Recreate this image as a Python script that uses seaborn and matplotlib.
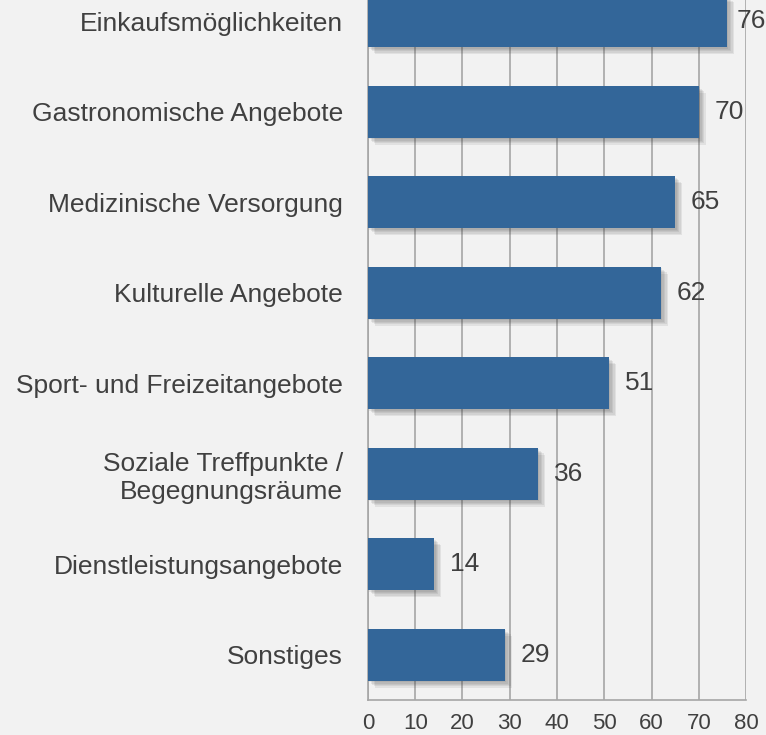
""" Survey chart: wished-for offers, horizontal bars. """

import pandas as pd
import numpy as np
import matplotlib.pyplot as plt
import matplotlib.patheffects as pe
from matplotlib.ticker import MultipleLocator
import seaborn as sns

categories = [
    'Einkaufsmöglichkeiten',
    'Gastronomische Angebote',
    'Medizinische Versorgung',
    'Kulturelle Angebote',
    'Sport- und Freizeitangebote',
    'Soziale Treffpunkte /\nBegegnungsräume',
    'Dienstleistungsangebote',
    'Sonstiges',
]
values = [76, 70, 65, 62, 51, 36, 14, 29]

df = pd.DataFrame({'kategorie': categories, 'wert': values})

bg = '#f2f2f2'
grid_col = '#a6a6a6'
text_col = '#404040'
bar_col = '#336699'

sns.set_style('white', {'axes.facecolor': bg, 'figure.facecolor': bg})
plt.rcParams['font.family'] = ['Liberation Sans', 'DejaVu Sans']

fig = plt.figure(figsize=(7.66, 7.35), dpi=100)
ax = fig.add_axes([0.4804, 0.0476, 0.4935, 0.985])

sns.barplot(data=df, y='kategorie', x='wert', orient='h', color=bar_col,
            saturation=1, width=0.575, ax=ax, zorder=3)

# soft drop shadow, a few layers stacked
shadow = [pe.SimplePatchShadow(offset=(d, -d), shadow_rgbFace='#404040', alpha=0.09)
          for d in (1, 2, 3, 4, 5)]
for p in ax.patches:
    p.set_path_effects(shadow + [pe.Normal()])
    p.set_edgecolor('none')

# labels next to the bars, the longest one is pulled in a bit so it fits
for i, v in enumerate(values):
    gap = 7 if v > 74 else 11.5
    ax.annotate(str(v), xy=(v, i), xytext=(gap, 0), textcoords='offset points',
                va='center', ha='left', fontsize=19, color=text_col, zorder=4,
                annotation_clip=False)

ax.set_xlim(0, 80)
ax.set_ylim(7.5, -0.5)
ax.xaxis.set_major_locator(MultipleLocator(10))
ax.xaxis.set_minor_locator(MultipleLocator(2))
ax.grid(axis='x', color=grid_col, linewidth=1.2, zorder=0)
ax.set_axisbelow(True)

for s in ['top', 'right']:
    ax.spines[s].set_visible(False)
ax.spines['left'].set_color(grid_col)
ax.spines['bottom'].set_color(grid_col)
ax.spines['left'].set_linewidth(1.2)
ax.spines['bottom'].set_linewidth(1.2)

ax.tick_params(axis='x', which='major', length=4, width=1.2, color=grid_col,
               labelsize=16, labelcolor=text_col, pad=5.5)
ax.tick_params(axis='x', which='minor', length=2, width=1, color=grid_col)
ax.tick_params(axis='y', length=0, labelsize=19, labelcolor=text_col, pad=18)

ax.set_xlabel('')
ax.set_ylabel('')

fig.savefig('out.png', dpi=100, facecolor=bg)
